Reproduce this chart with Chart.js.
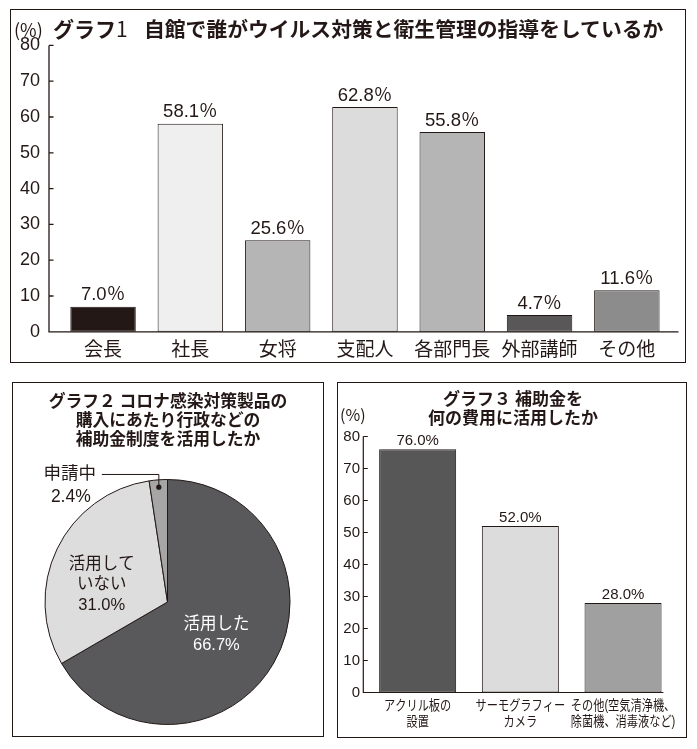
<!DOCTYPE html>
<html><head><meta charset="utf-8">
<script src="https://cdn.jsdelivr.net/npm/chart.js@4.4.1/dist/chart.umd.min.js"></script>
<style>
html,body{margin:0;padding:0;background:#fff;}
body{width:697px;height:749px;position:relative;overflow:hidden;font-family:"Noto Sans CJK JP",sans-serif;color:#231815;}
.box{position:absolute;border:1.5px solid #231815;box-sizing:border-box;}
.cv{position:absolute;}
.t{position:absolute;white-space:nowrap;}
</style></head><body>

<div class="box" style="left:10.3px;top:9.3px;width:675.4px;height:353.4px"></div>
<div class="box" style="left:11.8px;top:382.3px;width:312.2px;height:354.4px"></div>
<div class="box" style="left:336.6px;top:382.3px;width:350.1px;height:355.4px"></div>

<div class="cv" style="left:11px;top:10px;width:674px;height:352px"><canvas id="c1"></canvas></div>
<div class="cv" style="left:12.5px;top:383px;width:310.8px;height:353px"><canvas id="c2"></canvas></div>
<div class="cv" style="left:337px;top:383px;width:349px;height:354px"><canvas id="c3"></canvas></div>

<div class="t" style="left:14px;top:20px;font-size:18px;line-height:18px;">(%)</div>
<div class="t" style="left:53px;top:17.5px;font-size:21px;line-height:21px;font-weight:700;">グラフ<span style="font-weight:400">1</span></div>
<div class="t" style="left:144px;top:17.5px;font-size:20.8px;line-height:21px;font-weight:700;">自館で誰がウイルス対策と衛生管理の指導をしているか</div>

<div class="t" style="left:12.5px;top:390.5px;width:311px;text-align:center;font-size:16.8px;line-height:19px;font-weight:700;">グラフ２ コロナ感染対策製品の<br>購入にあたり行政などの<br>補助金制度を活用したか</div>

<div class="t" style="left:340px;top:389px;width:346px;text-align:center;font-size:17px;line-height:18.5px;font-weight:700;">グラフ３ 補助金を<br>何の費用に活用したか</div>
<div class="t" style="left:340px;top:406px;font-size:16px;line-height:16px;">(%)</div>

<script>
// ---------- data ----------
const g1Categories = ['会長','社長','女将','支配人','各部門長','外部講師','その他'];
const g1Values = [7.0, 58.1, 25.6, 62.8, 55.8, 4.7, 11.6];
const g1Colors = ['#231815','#efefef','#b5b5b5','#dcdcdc','#b5b5b5','#595757','#8c8c8c'];
const g1YMax = 80, g1YStep = 10;

const g2Categories = ['活用した','活用していない','申請中'];
const g2Values = [66.7, 31.0, 2.4];
const g2Colors = ['#59595b','#dddddd','#a6a6a6'];
const g2LabelLines = [['活用した'], ['活用して','いない'], ['申請中']];

const g3Categories = [['アクリル板の','設置'], ['サーモグラフィー','カメラ'], ['その他(空気清浄機、','除菌機、消毒液など)']];
const g3Values = [76.0, 52.0, 28.0];
const g3Colors = ['#575757','#dcdcdc','#a0a0a0'];
const g3YMax = 80, g3YStep = 10;

// ---------- styles ----------
const INK = '#231815';
const LAT = '"Liberation Sans", "Noto Sans CJK JP", sans-serif';
const CJK = '"Noto Sans CJK JP", sans-serif';

const axesPlugin = {
  id: 'axes',
  afterDatasetsDraw(chart, args, o) {
    const {ctx, chartArea, scales: {y}} = chart;
    const ax = chartArea.left - o.gap;
    const y0 = y.getPixelForValue(y.min), yTop = y.getPixelForValue(y.max);
    ctx.save();
    ctx.strokeStyle = INK; ctx.lineWidth = o.width;
    ctx.beginPath();
    ctx.moveTo(ax, yTop); ctx.lineTo(ax, y0); ctx.lineTo(chartArea.right + o.xExtra, y0);
    y.ticks.forEach(t => { const py = y.getPixelForValue(t.value); ctx.moveTo(ax, py); ctx.lineTo(ax + o.tick, py); });
    ctx.stroke();
    ctx.restore();
  }
};

const barLabels = {
  id: 'barLabels',
  afterDatasetsDraw(chart, args, o) {
    const ctx = chart.ctx, meta = chart.getDatasetMeta(0), data = chart.data.datasets[0].data;
    ctx.save();
    ctx.font = o.font; ctx.fillStyle = INK; ctx.textAlign = 'center'; ctx.textBaseline = 'middle';
    meta.data.forEach((bar, i) => ctx.fillText(data[i].toFixed(1) + o.suffix, bar.x, bar.y - o.offset));
    ctx.restore();
  }
};

// condensed multi-line category labels (drawn at the x scale's tick pixels)
const condensedTicks = {
  id: 'condensedTicks',
  afterDraw(chart, args, o) {
    const {ctx, scales: {x}} = chart;
    ctx.save();
    ctx.font = o.size + 'px ' + LAT; ctx.fillStyle = INK; ctx.textAlign = 'center'; ctx.textBaseline = 'middle';
    chart.data.labels.forEach((lab, i) => {
      const lines = Array.isArray(lab) ? lab : [lab];
      const px = x.getPixelForTick(i);
      lines.forEach((s, k) => {
        ctx.save();
        ctx.translate(px, x.top + o.first + k * o.lh);
        ctx.scale(o.sx, 1);
        ctx.fillText(s, 0, 0);
        ctx.restore();
      });
    });
    ctx.restore();
  }
};

// ---------- chart 1 ----------
new Chart(document.getElementById('c1'), {
  type: 'bar',
  data: { labels: g1Categories, datasets: [{ data: g1Values, backgroundColor: g1Colors, borderColor: INK, borderWidth: 1, borderSkipped: false, barPercentage: 0.75, categoryPercentage: 1 }] },
  options: {
    responsive: true, maintainAspectRatio: false, animation: false,
    layout: { padding: { left: 0, top: 35.4, right: 14.5, bottom: 0 } },
    plugins: { legend: { display: false }, tooltip: { enabled: false },
      axes: { gap: 10.4, xExtra: 8, tick: 4.5, width: 1.3 },
      barLabels: { font: '18.5px ' + LAT, suffix: '％', offset: 11.5 } },
    scales: {
      x: { grid: { display: false, drawTicks: false }, border: { display: false },
           ticks: { color: INK, font: { family: CJK, size: 19 }, padding: 5.4, autoSkip: false, maxRotation: 0, minRotation: 0 },
           afterFit(s) { s.height = 27; } },
      y: { min: 0, max: g1YMax, grid: { display: false, drawTicks: false }, border: { display: false },
           ticks: { stepSize: g1YStep, color: INK, font: { family: LAT, size: 18 }, padding: 19.4, autoSkip: false },
           afterFit(s) { s.width = 48.4; } }
    }
  },
  plugins: [axesPlugin, barLabels]
});

// ---------- chart 2 ----------
const pieLabelPlace = [
  { f: 0.47, dx: -1, dy: 4, lh: 21, color: '#ffffff', size: 16.5 },
  { f: 0.55, dx: -5, dy: 12, lh: 20.5, color: INK, size: 16.5 },
  { leader: true, f: 0.94, up: 12.7, len: 57, tx: -89, ty1: -13, ty2: 10, color: INK, size: 17.5 }
];
const pieLabels = {
  id: 'pieLabels',
  afterDatasetsDraw(chart) {
    const ctx = chart.ctx, meta = chart.getDatasetMeta(0), vals = chart.data.datasets[0].data;
    ctx.save();
    ctx.textAlign = 'center'; ctx.textBaseline = 'middle';
    meta.data.forEach((arc, i) => {
      const p = arc.getProps(['x', 'y', 'startAngle', 'endAngle', 'outerRadius'], true);
      const mid = (p.startAngle + p.endAngle) / 2;
      const L = pieLabelPlace[i];
      const pct = vals[i].toFixed(1) + '%';
      ctx.font = L.size + 'px ' + LAT;
      ctx.fillStyle = L.color;
      const px = p.x + Math.cos(mid) * p.outerRadius * L.f;
      const py = p.y + Math.sin(mid) * p.outerRadius * L.f;
      if (L.leader) {
        ctx.strokeStyle = INK; ctx.lineWidth = 1;
        ctx.beginPath(); ctx.moveTo(px, py); ctx.lineTo(px, py - L.up); ctx.lineTo(px - L.len, py - L.up); ctx.stroke();
        ctx.beginPath(); ctx.arc(px, py, 2.6, 0, Math.PI * 2); ctx.fill();
        ctx.fillText(g2LabelLines[i][0], px + L.tx, py + L.ty1);
        ctx.fillText(pct, px + L.tx + 1, py + L.ty2);
      } else {
        const lines = g2LabelLines[i].concat([pct]);
        const cx = px + L.dx, cy = py + L.dy;
        lines.forEach((s, k) => ctx.fillText(s, cx, cy + (k - (lines.length - 1) / 2) * L.lh));
      }
    });
    ctx.restore();
  }
};
new Chart(document.getElementById('c2'), {
  type: 'pie',
  data: { labels: g2Categories, datasets: [{ data: g2Values, backgroundColor: g2Colors, borderColor: INK, borderWidth: 1 }] },
  options: {
    responsive: true, maintainAspectRatio: false, animation: false,
    layout: { padding: { left: 31.5, top: 96, right: 33.3, bottom: 11 } },
    plugins: { legend: { display: false }, tooltip: { enabled: false } }
  },
  plugins: [pieLabels]
});

// ---------- chart 3 ----------
new Chart(document.getElementById('c3'), {
  type: 'bar',
  data: { labels: g3Categories, datasets: [{ data: g3Values, backgroundColor: g3Colors, borderColor: INK, borderWidth: 1, borderSkipped: false, barPercentage: 0.75, categoryPercentage: 1 }] },
  options: {
    responsive: true, maintainAspectRatio: false, animation: false,
    layout: { padding: { left: 0, top: 53.5, right: 11.6, bottom: 0 } },
    plugins: { legend: { display: false }, tooltip: { enabled: false },
      axes: { gap: 3, xExtra: -11, tick: 4.5, width: 1.2 },
      barLabels: { font: '15px ' + LAT, suffix: '%', offset: 8.5 },
      condensedTicks: { size: 14, sx: 0.8, first: 13.5, lh: 15.7 } },
    scales: {
      x: { grid: { display: false, drawTicks: false }, border: { display: false },
           ticks: { display: false },
           afterFit(s) { s.height = 44.5; } },
      y: { min: 0, max: g3YMax, grid: { display: false, drawTicks: false }, border: { display: false },
           ticks: { stepSize: g3YStep, color: INK, font: { family: LAT, size: 15 }, padding: 6.3, autoSkip: false },
           afterFit(s) { s.width = 29.3; } }
    }
  },
  plugins: [axesPlugin, barLabels, condensedTicks]
});
</script>
</body></html>
